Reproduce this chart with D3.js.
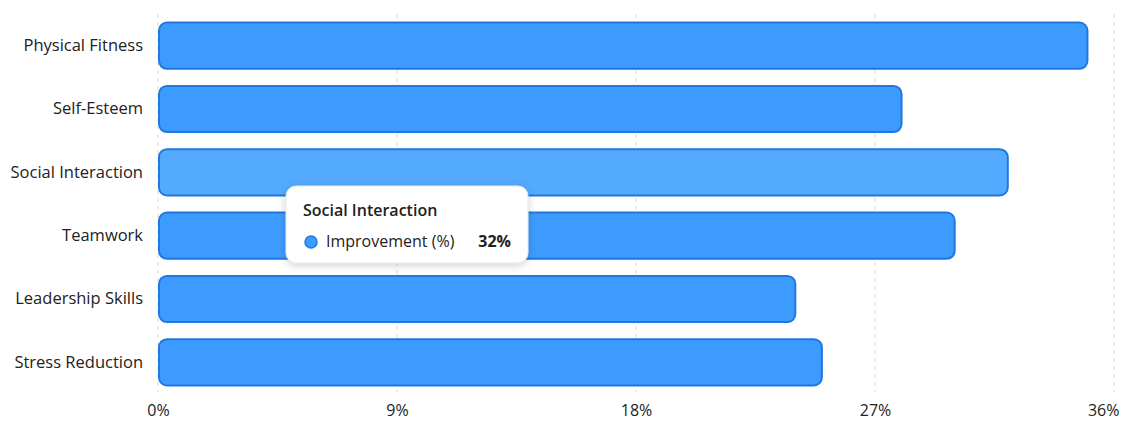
<!DOCTYPE html>
<html>
<head>
<meta charset="utf-8">
<script src="https://cdn.jsdelivr.net/npm/d3@7.9.0/dist/d3.min.js"></script>
<style>
  body { margin: 0; background: #fff; font-family: "Open Sans", "Noto Sans", sans-serif; }
  svg { display: block; }
</style>
</head>
<body>
<div id="chart"></div>
<script>
// ---- data ----
const categories = ['Physical Fitness', 'Self-Esteem', 'Social Interaction', 'Teamwork', 'Leadership Skills', 'Stress Reduction'];
const improvement = [35, 28, 32, 30, 24, 25];
const xTicks = [0, 9, 18, 27, 36];
const seriesName = 'Improvement (%)';
const hovered = 'Social Interaction';

const width = 1123, height = 421;
const margin = { top: 14, right: 8, bottom: 29, left: 158 };
const font = '"Open Sans", "Noto Sans", sans-serif';

const svg = d3.select('#chart').append('svg')
  .attr('width', width)
  .attr('height', height);

const defs = svg.append('defs');
const shadow = defs.append('filter').attr('id', 'tipShadow')
  .attr('x', '-20%').attr('y', '-30%').attr('width', '140%').attr('height', '160%');
shadow.append('feDropShadow').attr('dx', 0).attr('dy', 2).attr('stdDeviation', 4)
  .attr('flood-color', '#000').attr('flood-opacity', 0.18);

const x = d3.scaleLinear().domain([0, 36]).range([margin.left, 1114]);
const y = d3.scaleBand().domain(categories)
  .range([margin.top, height - margin.bottom + 2])
  .paddingInner(0.27).paddingOuter(0.135);

// grid
svg.append('g').selectAll('line').data(xTicks).join('line')
  .attr('x1', d => x(d)).attr('x2', d => x(d))
  .attr('y1', margin.top).attr('y2', 392)
  .attr('stroke', '#d9d9d9').attr('stroke-width', 1)
  .attr('stroke-dasharray', '4,4');

// x axis labels
const xAxis = d3.axisBottom(x).tickValues(xTicks).tickFormat(d => d + '%').tickSize(0).tickPadding(0);
svg.append('g').attr('transform', 'translate(0,405)').call(xAxis)
  .call(g => g.select('.domain').remove())
  .call(g => g.selectAll('text')
    .attr('font-family', font)
    .attr('font-size', 16).attr('fill', '#222'))
  .call(g => g.selectAll('.tick:last-of-type text')
    .attr('text-anchor', 'end').attr('dx', 5));

// y axis labels
const yAxis = d3.axisLeft(y).tickSize(0).tickPadding(15);
svg.append('g').attr('transform', `translate(${margin.left},0)`).call(yAxis)
  .call(g => g.select('.domain').remove())
  .call(g => g.selectAll('text')
    .attr('font-family', font)
    .attr('font-size', 16.5).attr('fill', '#222'));

// bars
const rows = categories.map((c, i) => ({ cat: c, val: improvement[i] }));
svg.append('g').selectAll('rect').data(rows).join('rect')
  .attr('x', x(0) + 1)
  .attr('y', d => y(d.cat))
  .attr('width', d => x(d.val) - x(0) - 1)
  .attr('height', y.bandwidth())
  .attr('rx', 8).attr('ry', 8)
  .attr('fill', d => d.cat === hovered ? '#54aaff' : '#3d9bff')
  .attr('stroke', '#1f78e0')
  .attr('stroke-width', 2);

// tooltip
const hv = rows.find(r => r.cat === hovered);
const tip = svg.append('g').attr('transform', 'translate(286,186)');
tip.append('rect').attr('width', 242).attr('height', 77).attr('rx', 10)
  .attr('fill', '#fff').attr('stroke', '#e6e6e6').attr('filter', 'url(#tipShadow)');
tip.append('text').attr('x', 17).attr('y', 30)
  .attr('font-family', font)
  .attr('font-size', 16).attr('font-weight', 600).attr('fill', '#222')
  .text(hv.cat);
tip.append('circle').attr('cx', 25).attr('cy', 56).attr('r', 6)
  .attr('fill', '#3d9bff').attr('stroke', '#1f78e0').attr('stroke-width', 1.5);
tip.append('text').attr('x', 40).attr('y', 61)
  .attr('font-family', font)
  .attr('font-size', 16).attr('fill', '#222').text(seriesName);
tip.append('text').attr('x', 225).attr('y', 61).attr('text-anchor', 'end')
  .attr('font-family', font)
  .attr('font-size', 16).attr('font-weight', 700).attr('fill', '#222')
  .text(hv.val + '%');
</script>
</body>
</html>
